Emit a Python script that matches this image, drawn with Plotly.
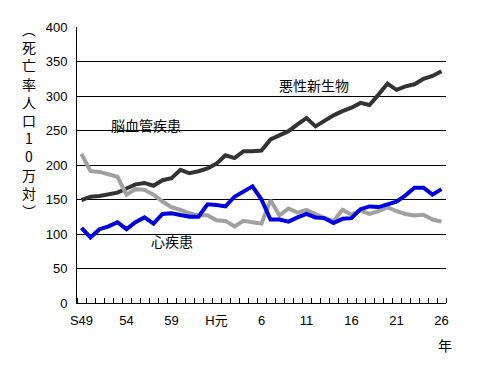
import plotly.graph_objects as go

years = list(range(1974, 2015))
tick_years = [1974, 1979, 1984, 1989, 1994, 1999, 2004, 2009, 2014]
tick_labels = ["S49", "54", "59", "H元", "6", "11", "16", "21", "26"]

cancer = [149, 154, 155, 157, 160, 166, 172, 174, 170, 178,
          181, 193, 188, 191, 195, 202, 214, 210, 220, 220,
          221, 237, 243, 249, 259, 268, 256, 264, 272, 278,
          283, 290, 287, 302, 318, 309, 314, 317, 325, 329, 336]
stroke = [216, 191, 190, 187, 183, 157, 165, 164, 157, 147,
          139, 135, 130, 127, 127, 120, 119, 111, 119, 117,
          115, 149, 127, 137, 131, 135, 129, 123, 119, 135,
          128, 134, 129, 133, 139, 133, 129, 127, 128, 121, 118]
heart = [109, 95, 107, 111, 117, 107, 117, 124, 115, 129,
         130, 128, 125, 125, 143, 142, 140, 154, 162, 169,
         150, 121, 121, 118, 124, 129, 124, 123, 116, 122,
         123, 136, 140, 139, 143, 147, 156, 167, 167, 157, 165]

FONT = "Liberation Sans, Arial, Noto Sans CJK JP"
JFONT = "Noto Sans CJK JP, Liberation Sans"

fig = go.Figure()
fig.add_trace(go.Scatter(x=years, y=cancer, mode="lines", name="悪性新生物",
                         line=dict(color="#333333", width=4)))
fig.add_trace(go.Scatter(x=years, y=stroke, mode="lines", name="脳血管疾患",
                         line=dict(color="#a0a0a0", width=4)))
fig.add_trace(go.Scatter(x=years, y=heart, mode="lines", name="心疾患",
                         line=dict(color="#0000e0", width=4)))

OFF = 8  # page body margin
W, H = 483 - OFF, 367 - OFF
L, R, T, B = 77 - OFF, 446 - OFF, 27 - OFF, 303 - OFF

def px(xp):
    return (xp - OFF - L) / (R - L)

def py(yp):
    return (B - (yp - OFF)) / (B - T)

annos = [
    dict(text="悪性新生物", x=px(314), y=py(85)),
    dict(text="脳血管疾患", x=px(146), y=py(125)),
    dict(text="心疾患", x=px(172), y=py(241)),
    dict(text="年", x=px(445), y=py(345)),
]
ann_list = []
for a in annos:
    ann_list.append(dict(text=a["text"], x=a["x"], y=a["y"], xref="paper", yref="paper",
                         showarrow=False, xanchor="center", yanchor="middle",
                         font=dict(family=JFONT, size=14, color="#000000")))

ytitle_chars = ["︵", "死", "亡", "率", "人", "口", "1", "0", "万", "対", "︶"]
ann_list.append(dict(text="<br>".join(ytitle_chars), x=px(29), y=py(120),
                     xref="paper", yref="paper", showarrow=False,
                     xanchor="center", yanchor="middle",
                     font=dict(family=JFONT, size=14, color="#000000")))

fig.update_layout(
    width=W, height=H,
    margin=dict(l=L, r=W - R, t=T, b=H - B, autoexpand=False),
    paper_bgcolor="#ffffff", plot_bgcolor="#ffffff",
    showlegend=False,
    font=dict(family=FONT, size=13, color="#000000"),
    annotations=ann_list,
    xaxis=dict(
        range=[1973.5, 2014.5],
        tickvals=tick_years, ticktext=tick_labels,
        ticks="", showgrid=False, zeroline=False,
        showline=True, linecolor="#000000", linewidth=1,
        tickfont=dict(family=FONT, size=13),
        ticklabelstandoff=5,
        minor=dict(tickvals=[y - 0.5 for y in years] + [2014.5],
                   ticks="inside", ticklen=5, tickcolor="#000000", showgrid=False),
    ),
    yaxis=dict(
        range=[0, 400], dtick=50,
        showgrid=True, gridcolor="#000000", gridwidth=1,
        zeroline=False, showline=True, linecolor="#000000", linewidth=1,
        ticks="", tickfont=dict(family=FONT, size=13),
        ticklabelstandoff=6,
    ),
)

fig.write_html("out.html")
